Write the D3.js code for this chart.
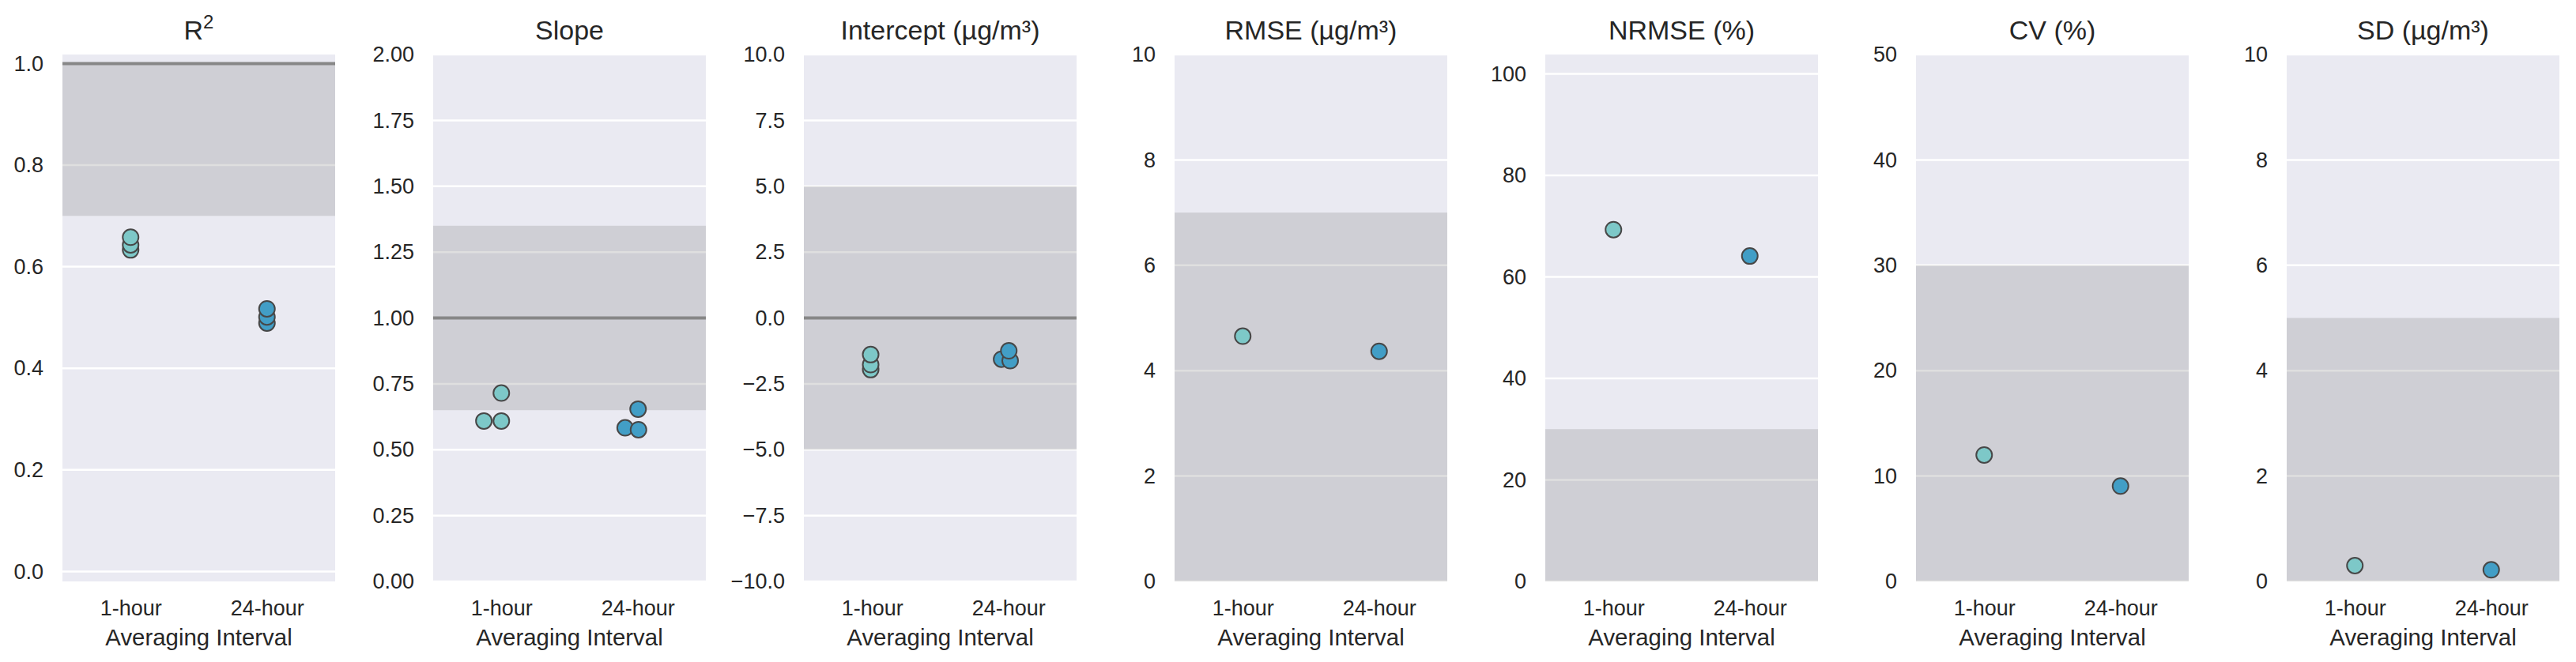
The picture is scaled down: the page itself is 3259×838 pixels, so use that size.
<!DOCTYPE html>
<html>
<head>
<meta charset="utf-8">
<script src="https://cdn.jsdelivr.net/npm/d3@7"></script>
<style>
  body { margin: 0; background: #fff; }
  text { font-family: "Liberation Sans", Arial, sans-serif; fill: #262626; }
</style>
</head>
<body>
<div id="chart"></div>
<script>
// categories on every panel
const categories = ["1-hour", "24-hour"];
const colors = ["#7dc8c8", "#429ec6"];

// panel titles ("^" marks a superscript)
const titles = ["R^2", "Slope", "Intercept (µg/m³)", "RMSE (µg/m³)", "NRMSE (%)", "CV (%)", "SD (µg/m³)"];

// values, one list per interval
const r2Hour1 = [0.633, 0.643, 0.658];
const r2Hour24 = [0.489, 0.501, 0.517];
const slopeHour1 = [0.609, 0.609, 0.715];
const slopeHour24 = [0.583, 0.576, 0.654];
const interceptHour1 = [-1.96, -1.77, -1.39];
const interceptHour24 = [-1.565, -1.62, -1.245];
const rmseHour1 = [4.655];
const rmseHour24 = [4.367];
const nrmseHour1 = [69.3];
const nrmseHour24 = [64.1];
const cvHour1 = [12.0];
const cvHour24 = [9.05];
const sdHour1 = [0.30];
const sdHour24 = [0.22];

// horizontal swarm offsets (in category units) for the overlapping points
const slopeJit1 = [-0.128, 0, 0];
const slopeJit24 = [-0.092, 0.006, 0.003];
const interceptJit1 = [-0.01, -0.01, -0.01];
const interceptJit24 = [-0.05, 0.013, 0.003];

// target bands and target lines
const bandLow = [0.7, 0.65, -5, 0, 0, 0, 0];
const bandHigh = [1.0, 1.35, 5, 7, 30, 30, 5];
const targetLine = [1.0, 1.0, 0, null, null, null, null];

// axis limits and tick labels
const yMin = [-0.0196, 0, -10, 0, 0, 0, 0];
const yMax = [1.0177, 2, 10, 10, 103.8, 50, 10];
const r2Ticks = [0, 0.2, 0.4, 0.6, 0.8, 1.0];
const slopeTicks = [0, 0.25, 0.5, 0.75, 1.0, 1.25, 1.5, 1.75, 2.0];
const interceptTicks = [-10, -7.5, -5, -2.5, 0, 2.5, 5, 7.5, 10];
const rmseTicks = [0, 2, 4, 6, 8, 10];
const nrmseTicks = [0, 20, 40, 60, 80, 100];
const cvTicks = [0, 10, 20, 30, 40, 50];
const sdTicks = [0, 2, 4, 6, 8, 10];
const tickFormats = [".1f", ".2f", ".1f", "d", "d", "d", "d"];

const W = 3259, H = 838;
const left0 = 79, step = 469, pw = 345;
const plotTop = 69, plotBottom = 736;

const series = [
  [r2Hour1, r2Hour24], [slopeHour1, slopeHour24], [interceptHour1, interceptHour24],
  [rmseHour1, rmseHour24], [nrmseHour1, nrmseHour24], [cvHour1, cvHour24], [sdHour1, sdHour24]
];
const jitters = [null, [slopeJit1, slopeJit24], [interceptJit1, interceptJit24], null, null, null, null];
const ticks = [r2Ticks, slopeTicks, interceptTicks, rmseTicks, nrmseTicks, cvTicks, sdTicks];

const svg = d3.select("#chart").append("svg")
  .attr("width", W).attr("height", H)
  .style("background", "#fff");

titles.forEach((title, i) => {
  const g = svg.append("g").attr("transform", `translate(${left0 + i * step}, 0)`);

  const x = d3.scalePoint().domain(categories).range([0, pw]).padding(0.5);
  const y = d3.scaleLinear().domain([yMin[i], yMax[i]]).range([plotBottom, plotTop]);

  g.append("rect")
    .attr("x", 0).attr("y", plotTop)
    .attr("width", pw).attr("height", plotBottom - plotTop)
    .attr("fill", "#eaeaf2");

  g.selectAll("line.grid")
    .data(ticks[i])
    .enter()
    .append("line")
    .attr("class", "grid")
    .attr("x1", 0).attr("x2", pw)
    .attr("y1", d => y(d)).attr("y2", d => y(d))
    .attr("stroke", "#fff")
    .attr("stroke-width", 2.5);

  g.append("rect")
    .attr("x", 0).attr("y", y(bandHigh[i]))
    .attr("width", pw).attr("height", y(bandLow[i]) - y(bandHigh[i]))
    .attr("fill", "#808080")
    .attr("fill-opacity", 0.25);

  if (targetLine[i] !== null) {
    g.append("line")
      .attr("x1", 0).attr("x2", pw)
      .attr("y1", y(targetLine[i])).attr("y2", y(targetLine[i]))
      .attr("stroke", "#878787")
      .attr("stroke-width", 4);
  }

  const fmt = d3.format(tickFormats[i]);
  const yAxis = d3.axisLeft(y)
    .tickValues(ticks[i])
    .tickSize(0)
    .tickPadding(24)
    .tickFormat(d => fmt(d).replace("-", "\u2212"));
  const ya = g.append("g").call(yAxis);
  ya.select(".domain").remove();
  ya.selectAll("text").attr("font-size", 27).attr("fill", "#262626")
    .style("font-family", "'Liberation Sans', Arial, sans-serif");

  const xAxis = d3.axisBottom(x).tickSize(0).tickPadding(24);
  const xa = g.append("g").attr("transform", `translate(0, ${plotBottom})`).call(xAxis);
  xa.select(".domain").remove();
  xa.selectAll("text").attr("font-size", 27).attr("fill", "#262626")
    .style("font-family", "'Liberation Sans', Arial, sans-serif");

  g.append("text")
    .attr("x", pw / 2).attr("y", 817)
    .attr("text-anchor", "middle")
    .attr("font-size", 29.4)
    .text("Averaging Interval");

  const t = g.append("text")
    .attr("x", pw / 2).attr("y", 50)
    .attr("text-anchor", "middle")
    .attr("font-size", 34);
  const parts = title.split("^");
  t.append("tspan").text(parts[0]);
  if (parts[1]) {
    t.append("tspan").attr("font-size", 24).attr("dy", -14).text(parts[1]);
  }

  categories.forEach((cat, c) => {
    const vals = series[i][c];
    const jit = jitters[i] ? jitters[i][c] : vals.map(() => 0);
    g.selectAll(null)
      .data(vals.map((v, k) => ({ v, j: jit[k] })))
      .enter()
      .append("circle")
      .attr("cx", d => x(cat) + d.j * x.step())
      .attr("cy", d => y(d.v))
      .attr("r", 10)
      .attr("fill", colors[c])
      .attr("stroke", "#474747")
      .attr("stroke-width", 2);
  });
});
</script>
</body>
</html>
